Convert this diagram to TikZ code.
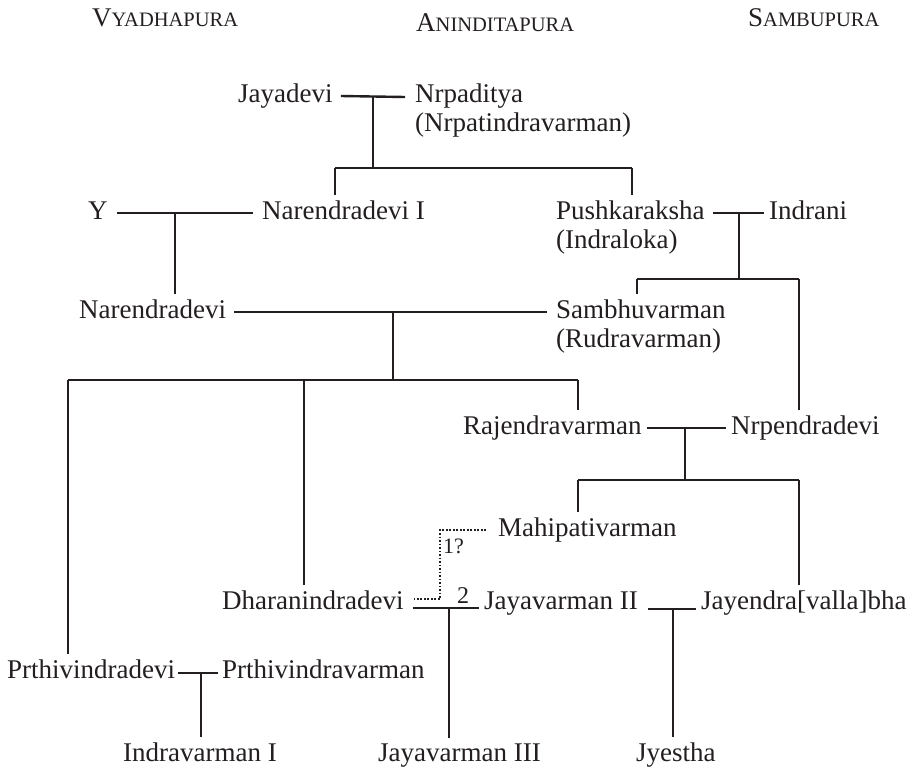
\documentclass[tikz,border=0pt]{standalone}
\usepackage{fontspec}
\setmainfont{Liberation Serif}
\usetikzlibrary{calc}
\definecolor{ink}{HTML}{231F20}
\newcommand\pfont{\fontsize{27}{32}\selectfont}
\newcommand\lfont{\fontsize{22}{26}\selectfont}
\newcommand\fakesc[2]{{\fontsize{27}{32}\selectfont #1}{\fontsize{20.5}{24}\selectfont #2}}
\tikzset{
  person/.style={font=\pfont, text=ink, inner xsep=0pt, inner ysep=5pt, anchor=mid west},
  hdr/.style={text=ink, inner sep=0pt, anchor=base west},
  lbl/.style={font=\lfont, text=ink, inner sep=0pt, anchor=base west},
  conn/.style={draw=ink, line width=2.4pt},
  dotconn/.style={draw=ink, line width=2pt, dash pattern=on 1.7pt off 1.8pt},
}
\begin{document}
\begin{tikzpicture}[x=1pt, y=-1pt]
\pfont
\fill[white] (0,0) rectangle (916,769);
\useasboundingbox (0,0) rectangle (916,769);

% headers
\node[hdr] (hv) at (92,26) {\fakesc{V}{YADHAPURA}};
\node[hdr] (ha) at (416,31) {\fakesc{A}{NINDITAPURA}};
\node[hdr] (hs) at (748,26) {\fakesc{S}{AMBUPURA}};

% people
\node[person] (jaya)  at (238,96)  {Jayadevi};
\node[person] (nrp)   at (415,96)  {Nrpaditya};
\node[person] (nrpb)  at (415,125) {(Nrpatindravarman)};
\node[person] (ny)    at (88,213)  {Y};
\node[person] (nar1)  at (262,213) {Narendradevi I};
\node[person] (push)  at (556,213) {Pushkaraksha};
\node[person] (pushb) at (556,242) {(Indraloka)};
\node[person] (indr)  at (769,213) {Indrani};
\node[person] (nar)   at (79,312)  {Narendradevi};
\node[person] (samb)  at (556,312) {Sambhuvarman};
\node[person] (sambb) at (556,341) {(Rudravarman)};
\node[person] (raj)   at (463,428) {Rajendravarman};
\node[person] (nrpe)  at (731,428) {Nrpendradevi};
\node[person] (mahi)  at (498,530) {Mahipativarman};
\node[person] (dhar)  at (222,603) {Dharanindradevi};
\node[person] (jay2)  at (484,603) {Jayavarman II};
\node[person] (jayen) at (701,603) {Jayendra[valla]bha};
\node[person] (prd)   at (7,672)   {Prthivindradevi};
\node[person] (prv)   at (222,672) {Prthivindravarman};
\node[person] (ind1)  at (123,755) {Indravarman I};
\node[person] (jay3)  at (378,755) {Jayavarman III};
\node[person] (jye)   at (636,755) {Jyestha};

% labels
\node[lbl] (l1) at (443,553) {1?};
\node[hdr, font=\fontsize{24}{28}\selectfont] (l2) at (457,603) {2};

% junction coordinates
\coordinate (m1) at (373,97);  \coordinate (b1) at (373,168);
\coordinate (b1l) at (335,168); \coordinate (b1r) at (632,168);
\coordinate (m2) at (175,213);
\coordinate (m3) at (739,213); \coordinate (b3) at (739,279);
\coordinate (b3l) at (637,279); \coordinate (b3r) at (799,279);
\coordinate (m4) at (393,312); \coordinate (b4) at (393,380);
\coordinate (b4l) at (68,380); \coordinate (b4m) at (304,380); \coordinate (b4r) at (578,380);
\coordinate (m5) at (685,428); \coordinate (b5) at (685,480);
\coordinate (b5l) at (578,480); \coordinate (b5r) at (799,480);
\coordinate (m6) at (449,608);
\coordinate (m7) at (673,609);
\coordinate (m8) at (201,673);
\coordinate (dc) at (440,530);

% marriages
\draw[conn] ([xshift=8pt]jaya.mid east) -- ([xshift=-10pt,yshift=-1pt]nrp.mid west);
\draw[conn] ([xshift=9pt]ny.mid east) -- ([xshift=-9pt]nar1.mid west);
\draw[conn] ([xshift=8pt]push.mid east) -- ([xshift=-5pt]indr.mid west);
\draw[conn] ([xshift=8pt]nar.mid east) -- ([xshift=-9pt]samb.mid west);
\draw[conn] ([xshift=5pt]raj.mid east) -- ([xshift=-5pt]nrpe.mid west);
\draw[conn] ([xshift=9pt,yshift=-5pt]dhar.mid east) -- ([xshift=-5pt,yshift=-5pt]jay2.mid west);
\draw[conn] ([xshift=10pt,yshift=-6pt]jay2.mid east) -- ([xshift=-5pt,yshift=-6pt]jayen.mid west);
\draw[conn] ([xshift=3pt,yshift=-1pt]prd.mid east) -- ([xshift=-4pt,yshift=-1pt]prv.mid west);

% descent lines
\draw[conn] (m1) -- (b1);
\draw[conn] (b1l) -- (b1r);
\draw[conn] (b1l) -- (b1l |- nar1.north);
\draw[conn] (b1r) -- (b1r |- push.north);
\draw[conn] (m2) -- (m2 |- nar.north);
\draw[conn] (m3) -- (b3);
\draw[conn] (b3l) -- (b3r);
\draw[conn] (b3l) -- (b3l |- samb.north);
\draw[conn] (b3r) -- (b3r |- nrpe.north);
\draw[conn] (m4) -- (b4);
\draw[conn] (b4l) -- (b4r);
\draw[conn] (b4l) -- (b4l |- prd.north);
\draw[conn] (b4m) -- (b4m |- dhar.north);
\draw[conn] (b4r) -- (b4r |- raj.north);
\draw[conn] (m5) -- (b5);
\draw[conn] (b5l) -- (b5r);
\draw[conn] (b5l) -- (b5l |- mahi.north);
\draw[conn] (b5r) -- (b5r |- jayen.north);
\draw[conn] (m6) -- (m6 |- jay3.north);
\draw[conn] (m7) -- (m7 |- jye.north);
\draw[conn] (m8) -- (m8 |- ind1.north);

% uncertain link
\draw[dotconn] ([xshift=-12pt]mahi.mid west) -- (dc) |- ([xshift=10pt,yshift=4pt]dhar.mid east);
\end{tikzpicture}
\end{document}
